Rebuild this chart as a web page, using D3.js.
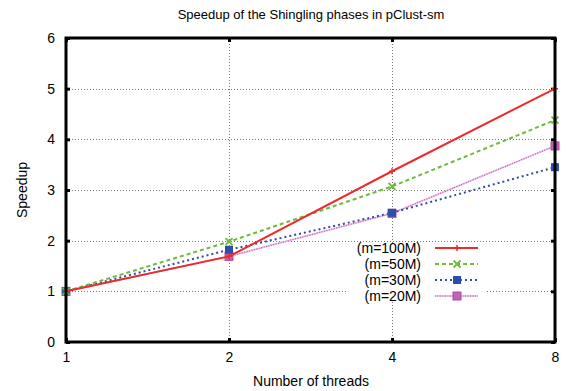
<!DOCTYPE html>
<html>
<head>
<meta charset="utf-8">
<script src="https://cdn.jsdelivr.net/npm/d3@7"></script>
<style>
  body { margin: 0; background: #fff; }
  text { font-family: "Liberation Sans", Arial, sans-serif; fill: #000; }
</style>
</head>
<body>
<div id="chart"></div>
<script>
// data
var threads = [1, 2, 4, 8];
var speed100M = [1, 1.69, 3.37, 5.0];
var speed50M = [1, 1.98, 3.07, 4.38];
var speed30M = [1, 1.82, 2.55, 3.45];
var speed20M = [1, 1.69, 2.54, 3.87];
var seriesNames = ['(m=100M)', '(m=50M)', '(m=30M)', '(m=20M)'];
var yTicks = [0, 1, 2, 3, 4, 5, 6];

var width = 566, height = 391;
var plotLeft = 66, plotRight = 555, plotTop = 38, plotBottom = 342;

var svg = d3.select('#chart').append('svg')
  .attr('width', width)
  .attr('height', height);

var x = d3.scaleLog().base(2).domain([1, 8]).range([plotLeft, plotRight]);
var y = d3.scaleLinear().domain([0, 6]).range([plotBottom, plotTop]);

// series styles
var series = [
  {name: seriesNames[0], values: speed100M, color: '#ee2a2a', dash: null, width: 2, mark: 'plus'},
  {name: seriesNames[1], values: speed50M, color: '#6cbb3c', dash: '4,3', width: 2, mark: 'cross'},
  {name: seriesNames[2], values: speed30M, color: '#2e4fa8', dash: '2,3', width: 2, mark: 'square'},
  {name: seriesNames[3], values: speed20M, color: '#c455b4', dash: '1,1.5', width: 1.2, mark: 'box'}
];

// legend box area (masks the grid)
var legX = 347, legY = 243, legW = 140, legH = 59;

// grid, dotted
var grid = svg.append('g').attr('stroke', '#777').attr('stroke-width', 1).attr('stroke-dasharray', '1,2');
yTicks.filter(d => d > 0 && d < 6).forEach(function(d) {
  var yy = Math.round(y(d)) + 0.5;
  if (yy > legY && yy < legY + legH) {
    grid.append('line').attr('x1', plotLeft).attr('x2', legX).attr('y1', yy).attr('y2', yy);
    grid.append('line').attr('x1', legX + legW).attr('x2', plotRight).attr('y1', yy).attr('y2', yy);
  } else {
    grid.append('line').attr('x1', plotLeft).attr('x2', plotRight).attr('y1', yy).attr('y2', yy);
  }
});
threads.filter(d => d > 1 && d < 8).forEach(function(d) {
  var xx = Math.round(x(d)) + 0.5;
  if (xx > legX && xx < legX + legW) {
    grid.append('line').attr('x1', xx).attr('x2', xx).attr('y1', plotTop).attr('y2', legY);
    grid.append('line').attr('x1', xx).attr('x2', xx).attr('y1', legY + legH).attr('y2', plotBottom);
  } else {
    grid.append('line').attr('x1', xx).attr('x2', xx).attr('y1', plotTop).attr('y2', plotBottom);
  }
});

// axes with ticks drawn inward
var yAxis = d3.axisLeft(y).tickValues(yTicks).tickFormat(d3.format('d')).tickSize(-4).tickPadding(11);
var xAxis = d3.axisBottom(x).tickValues(threads).tickFormat(d3.format('d')).tickSize(-4).tickPadding(10);

svg.append('g').attr('transform', 'translate(' + plotLeft + ',0)').call(yAxis);
svg.append('g').attr('transform', 'translate(0,' + plotBottom + ')').call(xAxis);
svg.append('g').attr('transform', 'translate(' + plotRight + ',0)')
  .call(d3.axisRight(y).tickValues(yTicks).tickSize(-4).tickFormat(''));
svg.append('g').attr('transform', 'translate(0,' + plotTop + ')')
  .call(d3.axisTop(x).tickValues(threads).tickSize(-4).tickFormat(''));

svg.selectAll('.domain').remove();
svg.selectAll('.tick line').attr('stroke', '#000').attr('stroke-width', 3);
svg.selectAll('.tick text').style('font-size', '14px').style('font-family', '"Liberation Sans", Arial, sans-serif');

// lines
var line = d3.line().x((d, i) => x(threads[i])).y(d => y(d));

function drawMark(g, type, cx, cy, color) {
  if (type === 'plus') {
    g.append('path').attr('d', 'M' + (cx - 3) + ',' + cy + 'h6M' + cx + ',' + (cy - 3) + 'v6')
      .attr('stroke', color).attr('stroke-width', 1.5).attr('fill', 'none');
  } else if (type === 'cross') {
    g.append('path').attr('d', 'M' + (cx - 3.5) + ',' + (cy - 3.5) + 'l7,7M' + (cx - 3.5) + ',' + (cy + 3.5) + 'l7,-7')
      .attr('stroke', color).attr('stroke-width', 1.8).attr('fill', 'none');
  } else if (type === 'square') {
    g.append('rect').attr('x', cx - 4).attr('y', cy - 4).attr('width', 8).attr('height', 8)
      .attr('fill', color);
  } else {
    g.append('rect').attr('x', cx - 4).attr('y', cy - 4).attr('width', 8).attr('height', 8)
      .attr('fill', '#c262b4').attr('stroke', '#b04aa2').attr('stroke-width', 1);
  }
}

series.slice().reverse().forEach(function(s) {
  var g = svg.append('g');
  if (s.mark === 'box') {
    g.append('path').datum(s.values).attr('d', line)
      .attr('fill', 'none').attr('stroke', '#ecc4e6').attr('stroke-width', 1.8);
  }
  g.append('path').datum(s.values).attr('d', line)
    .attr('fill', 'none').attr('stroke', s.color).attr('stroke-width', s.width)
    .attr('stroke-dasharray', s.dash);
  s.values.forEach(function(v, i) { drawMark(g, s.mark, x(threads[i]), y(v), s.color); });
});

// frame
svg.append('rect').attr('x', plotLeft).attr('y', plotTop)
  .attr('width', plotRight - plotLeft).attr('height', plotBottom - plotTop)
  .attr('fill', 'none').attr('stroke', '#000').attr('stroke-width', 3);

// legend
var leg = svg.append('g');
series.forEach(function(s, i) {
  var ly = 248 + i * 16;
  leg.append('text').attr('x', 421).attr('y', ly).attr('dy', '0.35em')
    .attr('text-anchor', 'end').style('font-size', '14px').text(s.name);
  if (s.mark === 'box') {
    leg.append('line').attr('x1', 435).attr('x2', 478).attr('y1', ly).attr('y2', ly)
      .attr('stroke', '#ecc4e6').attr('stroke-width', 1.8);
  }
  leg.append('line').attr('x1', 435).attr('x2', 478).attr('y1', ly).attr('y2', ly)
    .attr('stroke', s.color).attr('stroke-width', s.width).attr('stroke-dasharray', s.dash);
  drawMark(leg, s.mark, 457, ly, s.color);
});

// titles
svg.append('text').attr('x', 311).attr('y', 19).attr('text-anchor', 'middle')
  .style('font-size', '13px').text('Speedup of the Shingling phases in pClust-sm');
svg.append('text').attr('x', 311).attr('y', 386).attr('text-anchor', 'middle')
  .style('font-size', '14px').text('Number of threads');
svg.append('text').attr('transform', 'translate(27,' + (plotTop + plotBottom) / 2 + ') rotate(-90)')
  .attr('text-anchor', 'middle').style('font-size', '14px').text('Speedup');
</script>
</body>
</html>
